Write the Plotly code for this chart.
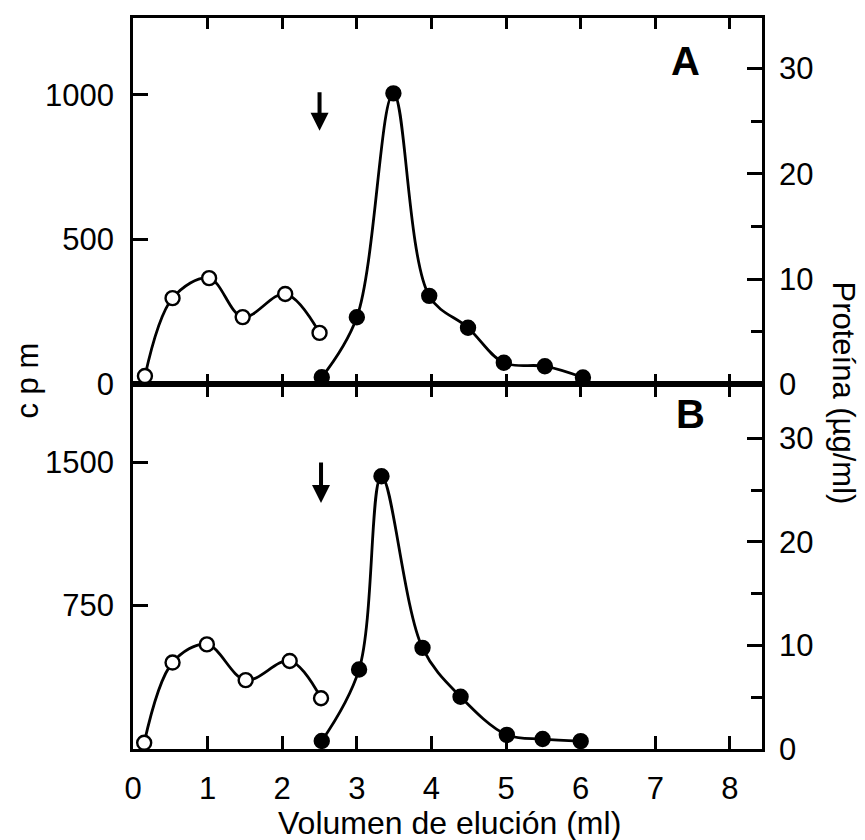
import plotly.graph_objects as go

# ---- data ----
# Panel A
a_open_x = [0.16, 0.53, 1.02, 1.47, 2.04, 2.50]
a_open_prot = [0.8, 8.2, 10.1, 6.4, 8.6, 4.9]
a_fill_x = [2.53, 3.00, 3.49, 3.97, 4.49, 4.97, 5.52, 6.03]
a_fill_cpm = [25, 232, 1005, 306, 196, 75, 63, 24]
# Panel B
b_open_x = [0.15, 0.53, 0.99, 1.51, 2.10, 2.52]
b_open_prot = [0.6, 8.35, 10.1, 6.65, 8.5, 4.9]
b_fill_x = [2.53, 3.03, 3.33, 3.88, 4.39, 5.01, 5.49, 6.00]
b_fill_cpm = [42, 416, 1426, 529, 273, 74, 52, 41]

x_ticks = [0, 1, 2, 3, 4, 5, 6, 7, 8]
a_cpm_ticks = [0, 500, 1000]
b_cpm_ticks = [750, 1500]
prot_ticks = [0, 10, 20, 30]
arrow_a = (2.50, 876)
arrow_b = (2.52, 1286)

FONT = "Liberation Sans"
LW = 2.8
OFF = 8  # page body margin
split = (749 - 383) / 734.0

fig = go.Figure()

def add(x, y, xa, ya, filled):
    fig.add_trace(go.Scatter(
        x=x, y=y, xaxis=xa, yaxis=ya, mode="lines+markers",
        line=dict(color="black", width=LW, shape="spline", smoothing=1.0),
        marker=dict(size=14, color="black" if filled else "white",
                    line=dict(color="black", width=2.4)),
        showlegend=False, cliponaxis=False))

add(a_open_x, a_open_prot, "x2", "y4", False)
add(a_fill_x, a_fill_cpm, "x2", "y3", True)
add(b_open_x, b_open_prot, "x", "y2", False)
add(b_fill_x, b_fill_cpm, "x", "y", True)

tickfont = dict(family=FONT, size=31, color="black")
common = dict(showline=True, linecolor="black", linewidth=LW, ticks="inside",
              tickcolor="black", tickwidth=LW, showgrid=False, zeroline=False,
              tickfont=tickfont)
minor = dict(ticks="inside", tickvals=[5, 15, 25], ticklen=11,
             tickwidth=LW, tickcolor="black")

W, H = 865 - OFF, 840 - OFF
fig.update_layout(
    width=W, height=H,
    margin=dict(l=133 - OFF, r=W - (762 - OFF), t=15 - OFF, b=H - (749 - OFF)),
    paper_bgcolor="white", plot_bgcolor="white",
    xaxis=dict(domain=[0, 1], range=[0, 8.43], anchor="y", tickvals=x_ticks,
               ticklen=13, mirror="ticks", ticklabelstandoff=10, **common),
    xaxis2=dict(domain=[0, 1], range=[0, 8.43], anchor="y3", matches="x",
                tickvals=x_ticks, ticklen=11, mirror="ticks",
                showticklabels=False, **common),
    yaxis=dict(domain=[0, split], range=[0, 1906], anchor="x",
               tickvals=b_cpm_ticks, ticklen=15, ticklabelstandoff=10, **common),
    yaxis2=dict(domain=[0, split], range=[0, 35.2], anchor="x", overlaying="y",
                side="right", tickvals=prot_ticks, ticklen=15,
                ticklabelstandoff=8, minor=minor, **common),
    yaxis3=dict(domain=[split, 1], range=[0, 1265], anchor="x2",
                tickvals=a_cpm_ticks, ticklen=15, ticklabelstandoff=10, **common),
    yaxis4=dict(domain=[split, 1], range=[0, 34.8], anchor="x2", overlaying="y3",
                side="right", tickvals=prot_ticks, ticklen=15,
                ticklabelstandoff=8, minor=minor, **common),
)

def px(xp, yp):
    return (xp - 133) / 629.0, (749 - yp) / 734.0

ann = []
# arrows
ann.append(dict(x=arrow_a[0], y=arrow_a[1], xref="x2", yref="y3", ax=0, ay=-40,
                text="", showarrow=True, arrowhead=2, arrowsize=0.9,
                arrowwidth=4, arrowcolor="black"))
ann.append(dict(x=arrow_b[0], y=arrow_b[1], xref="x", yref="y", ax=0, ay=-42,
                text="", showarrow=True, arrowhead=2, arrowsize=0.9,
                arrowwidth=4, arrowcolor="black"))

def label(xp, yp, text, size, angle=0):
    x, y = px(xp, yp)
    ann.append(dict(x=x, y=y, xref="paper", yref="paper", text=text,
                    textangle=angle, showarrow=False, xanchor="center",
                    yanchor="middle",
                    font=dict(family=FONT, size=size, color="black")))

label(685, 58, "<b>A</b>", 40)
label(690, 413, "<b>B</b>", 40)
label(28, 379, "c p m", 31, -90)
label(844, 391, "Proteína (µg/ml)", 31, 90)
label(450, 823, "Volumen de elución (ml)", 32)
fig.update_layout(annotations=ann)

fig.write_html("out.html")
